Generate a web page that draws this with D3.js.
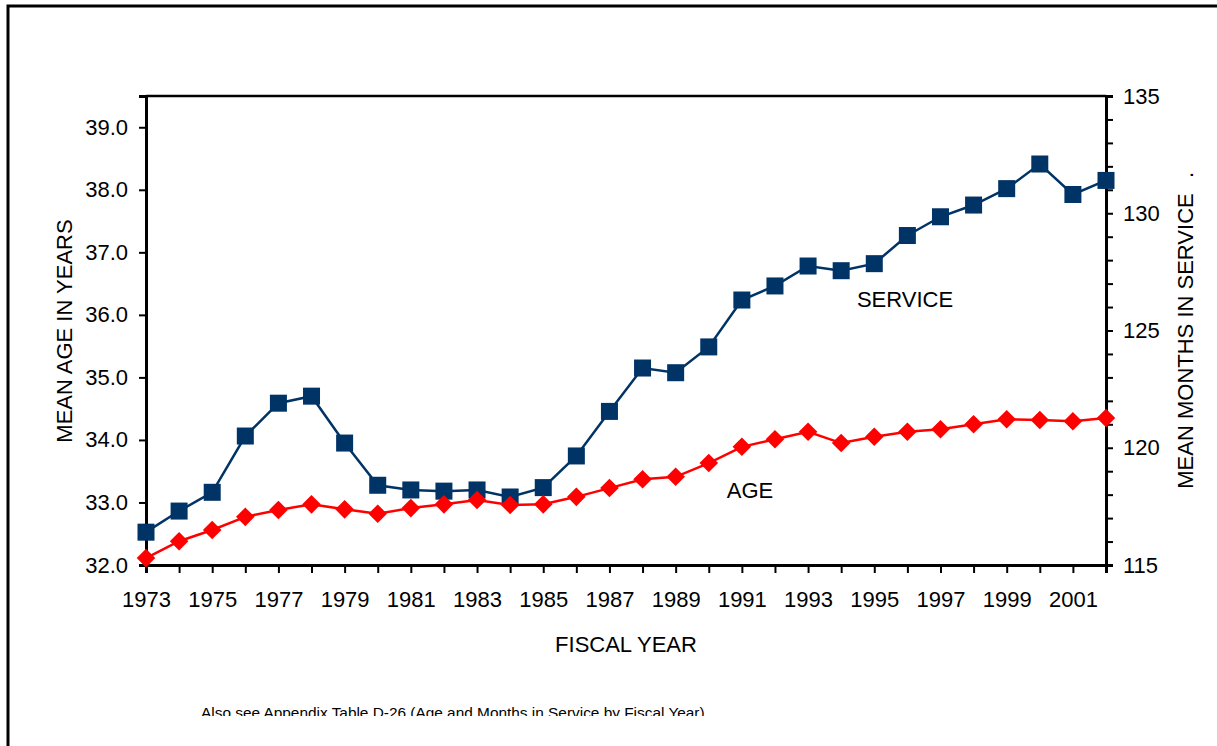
<!DOCTYPE html>
<html>
<head>
<meta charset="utf-8">
<title>Mean Age and Months in Service</title>
<script src="https://cdn.jsdelivr.net/npm/d3@7"></script>
<style>
body { margin: 0; background: #fff; }
svg text { font-family: "Liberation Sans", Arial, sans-serif; fill: #000; }
</style>
</head>
<body>
<svg id="chart" width="1217" height="746"></svg>
<script>
// fiscal years
var years = d3.range(1973, 2003);

// mean age in years (left axis)
var age = [32.11, 32.38, 32.56, 32.77, 32.88, 32.97, 32.89, 32.82, 32.91, 32.97,
           33.04, 32.96, 32.97, 33.09, 33.23, 33.37, 33.41, 33.63, 33.89, 34.01,
           34.13, 33.95, 34.05, 34.13, 34.17, 34.25, 34.33, 34.32, 34.30, 34.35];

// mean months in service (right axis)
var service = [116.4, 117.3, 118.1, 120.5, 121.9, 122.2, 120.2, 118.4, 118.2, 118.15,
               118.2, 117.9, 118.3, 119.65, 121.55, 123.4, 123.2, 124.3, 126.3, 126.9,
               127.75, 127.55, 127.85, 129.05, 129.85, 130.35, 131.05, 132.1, 130.8, 131.4];

var leftTicks = [32, 33, 34, 35, 36, 37, 38, 39];
var rightTicks = [115, 120, 125, 130, 135];
var labelYears = d3.range(1973, 2002, 2);

var svg = d3.select("#chart");
var margin = {left: 146, top: 96, right: 1106, bottom: 565};
var FONT = "22px";

// outer frame (right and bottom edges run off the page)
svg.append("rect")
    .attr("x", 8).attr("y", 6)
    .attr("width", 1230).attr("height", 760)
    .attr("fill", "none").attr("stroke", "#000").attr("stroke-width", 3);

var x = d3.scaleLinear().domain([1973, 2002]).range([margin.left, margin.right]);
var yAge = d3.scaleLinear().domain([32, 39.5]).range([margin.bottom, margin.top]);
var yServ = d3.scaleLinear().domain([115, 135]).range([margin.bottom, margin.top]);

// top border of plot area
svg.append("line")
    .attr("x1", margin.left).attr("x2", margin.right)
    .attr("y1", margin.top).attr("y2", margin.top)
    .attr("stroke", "#000").attr("stroke-width", 2.5);

// left axis
var gl = svg.append("g")
    .attr("transform", "translate(" + margin.left + ",0)")
    .call(d3.axisLeft(yAge).tickValues(leftTicks).tickFormat(d3.format(".1f"))
          .tickSizeOuter(0).tickSize(7).tickPadding(11));

// right axis, minor ticks every month
var gr = svg.append("g")
    .attr("transform", "translate(" + margin.right + ",0)")
    .call(d3.axisRight(yServ).tickValues(d3.range(115, 136)).tickSizeOuter(0)
          .tickSize(7).tickPadding(10)
          .tickFormat(function(d) { return rightTicks.indexOf(d) >= 0 ? d : ""; }));

// bottom axis
var gb = svg.append("g")
    .attr("transform", "translate(0," + margin.bottom + ")")
    .call(d3.axisBottom(x).tickValues(years).tickSizeOuter(0).tickSize(8).tickPadding(18)
          .tickFormat(function(d) { return labelYears.indexOf(d) >= 0 ? d : ""; }));

[gl, gr, gb].forEach(function(g) {
  g.select(".domain").attr("stroke", "#000").attr("stroke-width", 3);
  g.selectAll(".tick line").attr("stroke", "#000").attr("stroke-width", 2);
  g.selectAll(".tick text").style("font-size", FONT)
      .style("font-family", "'Liberation Sans', Arial, sans-serif").attr("fill", "#000");
});

// service line (dark blue, squares)
var serviceLine = d3.line()
    .x(function(d, i) { return x(years[i]); })
    .y(function(d) { return yServ(d); });

svg.append("path")
    .datum(service)
    .attr("d", serviceLine)
    .attr("fill", "none")
    .attr("stroke", "#003366")
    .attr("stroke-width", 2.5);

svg.selectAll(".sq")
    .data(service)
    .enter().append("rect")
    .attr("class", "sq")
    .attr("x", function(d, i) { return x(years[i]) - 8.5; })
    .attr("y", function(d) { return yServ(d) - 8.5; })
    .attr("width", 17).attr("height", 17)
    .attr("fill", "#003366");

// age line (red, diamonds)
var ageLine = d3.line()
    .x(function(d, i) { return x(years[i]); })
    .y(function(d) { return yAge(d); });

svg.append("path")
    .datum(age)
    .attr("d", ageLine)
    .attr("fill", "none")
    .attr("stroke", "#ff0000")
    .attr("stroke-width", 2.5);

svg.selectAll(".dm")
    .data(age)
    .enter().append("path")
    .attr("class", "dm")
    .attr("d", d3.symbol().type(d3.symbolDiamond2).size(220))
    .attr("transform", function(d, i) {
      return "translate(" + x(years[i]) + "," + yAge(d) + ")";
    })
    .attr("fill", "#ff0000");

// series labels
svg.append("text").attr("x", 905).attr("y", 307)
    .attr("text-anchor", "middle").style("font-size", FONT).text("SERVICE");
svg.append("text").attr("x", 750).attr("y", 498)
    .attr("text-anchor", "middle").style("font-size", FONT).text("AGE");

// axis titles
svg.append("text")
    .attr("transform", "translate(72,331) rotate(-90)")
    .attr("text-anchor", "middle").style("font-size", FONT)
    .text("MEAN AGE IN YEARS");
svg.append("text")
    .attr("transform", "translate(1193,341) rotate(-90)")
    .attr("text-anchor", "middle").style("font-size", FONT)
    .text("MEAN MONTHS IN SERVICE");
svg.append("text")
    .attr("transform", "translate(1193,178) rotate(-90)")
    .style("font-size", FONT)
    .text(".");
svg.append("text").attr("x", 626).attr("y", 652)
    .attr("text-anchor", "middle").style("font-size", FONT).text("FISCAL YEAR");

// footnote, clipped at the bottom like the source
svg.append("clipPath").attr("id", "noteclip")
    .append("rect").attr("x", 0).attr("y", 690).attr("width", 1217).attr("height", 26);
svg.append("text").attr("x", 201).attr("y", 718)
    .attr("clip-path", "url(#noteclip)")
    .style("font-size", "15.4px")
    .text("Also see Appendix Table D-26 (Age and Months in Service by Fiscal Year).");
</script>
</body>
</html>
